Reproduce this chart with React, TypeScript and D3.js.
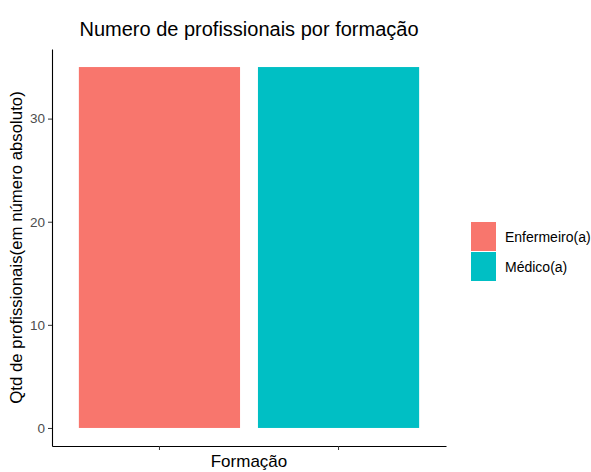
import { useEffect, useRef } from "react";
import * as d3 from "d3";

const categories = ["Enfermeiro(a)", "Médico(a)"];
const counts = [35, 35];
const colors = ["#F8766D", "#00BFC4"];
const yTicks = [0, 10, 20, 30];

const W = 591;
const H = 472;

export default function App() {
	const svgRef = useRef<SVGSVGElement>(null);

	useEffect(() => {
		if (!svgRef.current) return;
		const svg = d3.select(svgRef.current);
		svg.selectAll("*").remove();

		const font = "'Liberation Sans', Arial, sans-serif";
		const left = 52;
		const right = 446;
		const top = 49;
		const bottom = 446;

		const yMax = d3.max(counts) ?? 0;
		const y = d3
			.scaleLinear()
			.domain([-yMax * 0.05, yMax * 1.05])
			.range([bottom, top]);

		// ggplot discrete: bar width 0.9, expansion 0.6 per side
		const x = d3
			.scaleBand()
			.domain(categories)
			.range([left, right])
			.paddingInner(0.1)
			.paddingOuter(0.15);

		svg.append("g")
			.selectAll("rect")
			.data(categories)
			.join("rect")
			.attr("x", (d) => x(d) ?? 0)
			.attr("width", x.bandwidth())
			.attr("y", (_, i) => y(counts[i]))
			.attr("height", (_, i) => y(0) - y(counts[i]))
			.attr("fill", (_, i) => colors[i]);

		const yAxis = svg
			.append("g")
			.attr("transform", `translate(${left},0)`)
			.call(d3.axisLeft(y).tickValues(yTicks).tickSize(4).tickPadding(3).tickSizeOuter(0));
		yAxis.select(".domain").attr("stroke", "#000").attr("stroke-width", 1.1);
		yAxis.selectAll(".tick line").attr("stroke", "#333");
		yAxis.selectAll(".tick text").attr("fill", "#4D4D4D").attr("font-size", 13.5).attr("font-family", font);

		const xAxis = svg
			.append("g")
			.attr("transform", `translate(0,${bottom})`)
			.call(d3.axisBottom(x).tickSize(4).tickSizeOuter(0).tickFormat(() => ""));
		xAxis.select(".domain").attr("stroke", "#000").attr("stroke-width", 1.1);
		xAxis.selectAll(".tick line").attr("stroke", "#333");

		svg.append("text")
			.attr("x", (left + right) / 2)
			.attr("y", 36)
			.attr("text-anchor", "middle")
			.attr("font-family", font)
			.attr("font-size", 20)
			.attr("fill", "#000")
			.text("Numero de profissionais por formação");

		svg.append("text")
			.attr("x", (left + right) / 2)
			.attr("y", 467)
			.attr("text-anchor", "middle")
			.attr("font-family", font)
			.attr("font-size", 17)
			.attr("fill", "#000")
			.text("Formação");

		svg.append("text")
			.attr("transform", `translate(22,${(top + bottom) / 2}) rotate(-90)`)
			.attr("text-anchor", "middle")
			.attr("font-family", font)
			.attr("font-size", 16.8)
			.attr("fill", "#000")
			.text("Qtd de profissionais(em número absoluto)");

		const legend = svg.append("g").attr("transform", "translate(471,222)");
		categories.forEach((c, i) => {
			legend.append("rect")
				.attr("x", 0)
				.attr("y", i * 30)
				.attr("width", 25)
				.attr("height", 29)
				.attr("fill", colors[i]);
			legend.append("text")
				.attr("x", 34)
				.attr("y", i * 30 + 20)
				.attr("font-family", font)
				.attr("font-size", 14)
				.attr("fill", "#000")
				.text(c);
		});
	}, []);

	return <svg ref={svgRef} width={W} height={H} style={{ position: "absolute", left: 0, top: 0, background: "#fff" }} />;
}
